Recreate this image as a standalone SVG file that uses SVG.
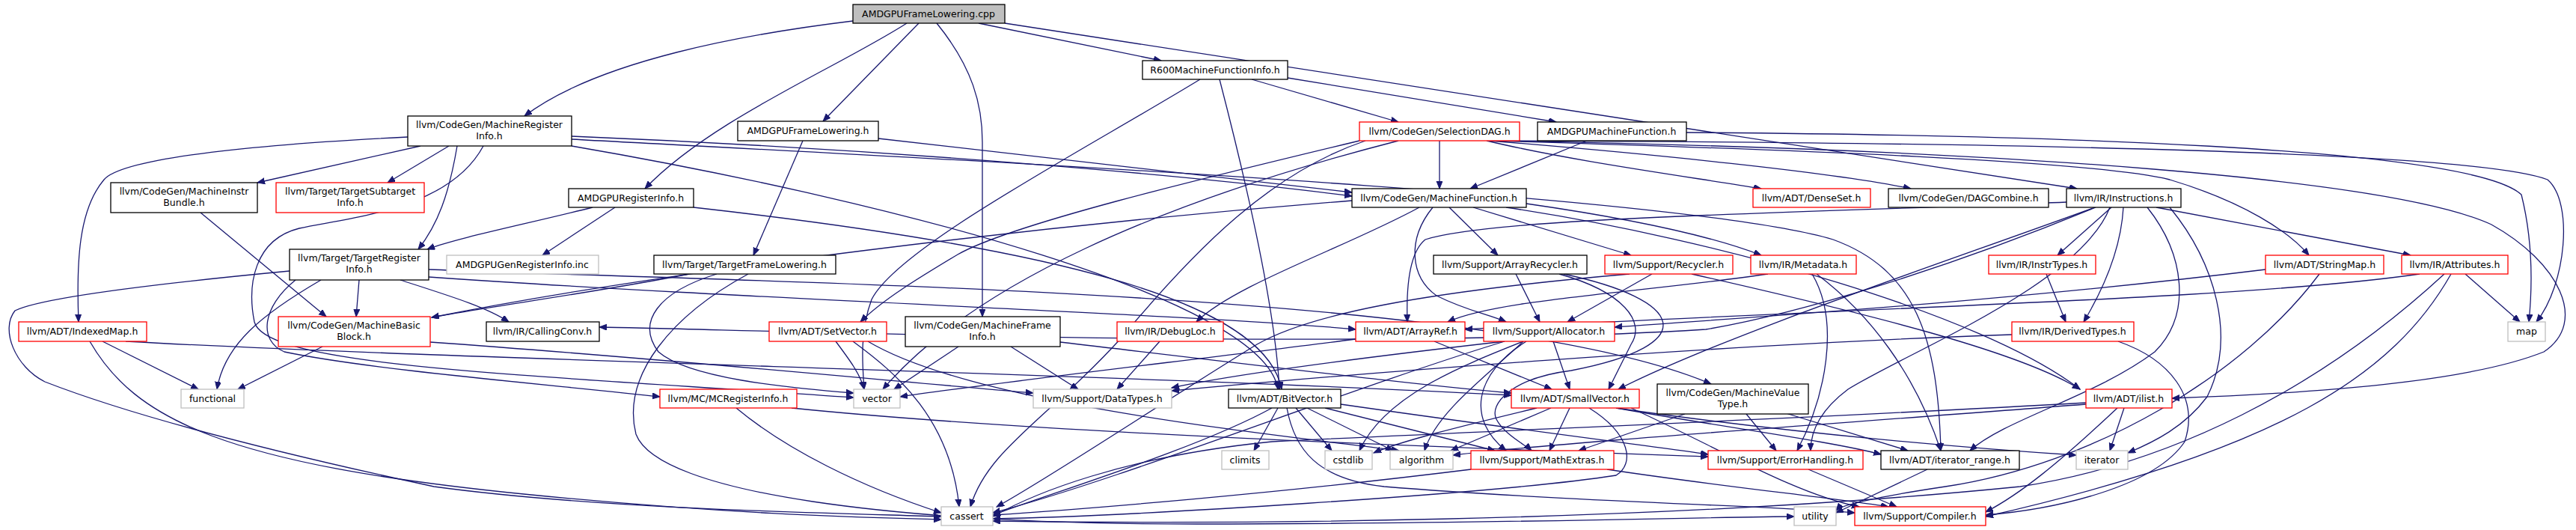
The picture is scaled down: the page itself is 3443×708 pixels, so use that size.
<svg xmlns="http://www.w3.org/2000/svg" width="3443" height="708" viewBox="0 0 3443 708">
<style>
.n rect{fill:#fff;stroke:#000;stroke-width:1.3}
.n.r rect{stroke:#ff0000}
.n.g rect{stroke:#bfbfbf}
.n.c rect{fill:#bfbfbf}
text{font-family:"DejaVu Sans","Liberation Sans",sans-serif;font-size:12.5px;text-anchor:middle;fill:#000}
#edges path{fill:none;stroke:#191970;stroke-width:1.3;marker-end:url(#a)}
</style>
<defs>
<marker id="a" markerWidth="11" markerHeight="9" refX="10" refY="4" orient="auto" markerUnits="userSpaceOnUse">
<path d="M0,0 L10,4 L0,8 z" fill="#191970" stroke="#191970" stroke-width="1"/>
</marker>
</defs>
<rect width="3443" height="708" fill="#fff"/>
<g id="edges">
<path d="M1140,28 C1000,45 800,80 701,155"/>
<path d="M1212,31 C1120,90 950,160 862,252"/>
<path d="M1228,31 L1100,162"/>
<path d="M1252,31 C1300,90 1313,140 1313,190 L1313,423"/>
<path d="M1308,31 L1552,81"/>
<path d="M1343,31 L2776,252"/>
<path d="M1174,185 L1807,257"/>
<path d="M1073,188 L1007,341"/>
<path d="M792,277 C700,300 610,318 571,333"/>
<path d="M822,277 L725,341"/>
<path d="M927,277 C1400,330 1690,400 1713,520"/>
<path d="M1673,106 L1869,163"/>
<path d="M1721,104 L2080,163"/>
<path d="M1604,106 C1450,200 1200,330 1165,400 C1150,440 1152,480 1155,520"/>
<path d="M1630,106 C1670,260 1705,420 1710,520"/>
<path d="M545,183 C300,195 160,215 139,240 C105,280 102,350 105,430"/>
<path d="M562,195 L344,244"/>
<path d="M600,195 L518,244"/>
<path d="M611,195 C600,260 585,300 559,333"/>
<path d="M764,182 C1200,200 1600,235 1807,262"/>
<path d="M764,186 C1300,215 2250,260 2450,320 C2560,360 2590,450 2594,602"/>
<path d="M764,195 C1200,270 1690,400 1708,520"/>
<path d="M646,195 C600,280 470,290 400,305 C340,320 330,380 340,430 C355,490 700,500 1141,531"/>
<path d="M268,284 L436,423"/>
<path d="M480,374 L476,423"/>
<path d="M429,374 C350,420 300,460 290,520"/>
<path d="M535,374 C600,395 650,410 680,430"/>
<path d="M387,362 C250,375 60,395 20,415 C0,440 20,490 60,510 C150,545 300,590 580,650 C800,680 1100,685 1258,690"/>
<path d="M395,374 C350,410 345,455 380,470 C500,495 750,515 882,530"/>
<path d="M573,360 C1100,380 2000,390 2287,513"/>
<path d="M573,370 C1000,400 1600,420 1812,440"/>
<path d="M1058,545 C1400,580 2000,600 2283,610"/>
<path d="M984,545 C1050,600 1150,650 1258,685"/>
<path d="M921,366 C800,390 650,410 577,424"/>
<path d="M958,366 C880,390 850,430 880,470 C920,505 1050,518 1141,525"/>
<path d="M1000,366 C900,420 830,500 850,580 C880,660 1200,700 1600,700 C2000,700 2300,690 2398,690"/>
<path d="M1117,456 C1135,480 1150,500 1155,520"/>
<path d="M1140,456 C1200,500 1270,560 1282,677"/>
<path d="M1160,456 C1300,540 1700,580 1870,602"/>
<path d="M1281,463 L1195,520"/>
<path d="M1351,463 L1441,520"/>
<path d="M1417,457 C1700,490 1900,515 2020,525"/>
<path d="M1550,456 L1493,520"/>
<path d="M1708,545 L1676,602"/>
<path d="M1732,545 L1780,602"/>
<path d="M1747,545 L1862,602"/>
<path d="M1771,545 L1998,602"/>
<path d="M1700,545 C1600,600 1400,660 1327,688"/>
<path d="M1792,540 C2000,570 2200,595 2283,607"/>
<path d="M1720,545 C1730,600 1760,640 1850,650 C2100,670 2350,675 2479,685"/>
<path d="M1924,188 L1924,252"/>
<path d="M1987,188 C2100,215 2250,235 2354,252"/>
<path d="M1990,188 C2200,205 2450,230 2554,252"/>
<path d="M1995,188 C2400,200 2800,215 2900,240 C3000,270 3060,310 3086,341"/>
<path d="M1998,188 C2600,190 3300,200 3405,240 C3440,270 3430,380 3390,430"/>
<path d="M2000,188 C2700,200 3200,240 3330,300 C3420,350 3460,430 3400,470 C3300,510 3100,525 2903,532"/>
<path d="M1825,188 C1700,230 1600,330 1500,450 C1400,560 1320,600 1297,677"/>
<path d="M1817,188 C1600,240 1350,300 1280,340 C1230,370 1180,400 1150,430"/>
<path d="M1869,188 C1550,270 1300,380 1180,520"/>
<path d="M2121,188 L1965,252"/>
<path d="M2254,177 C2700,180 3300,195 3370,260 C3385,320 3385,380 3380,430"/>
<path d="M1807,268 C1400,300 900,360 577,424"/>
<path d="M1897,277 C1800,330 1650,380 1599,430"/>
<path d="M1915,277 C1880,320 1885,370 1920,395 C1960,415 1990,420 2013,430"/>
<path d="M1937,277 L2002,341"/>
<path d="M1969,277 L2180,341"/>
<path d="M2040,272 C2200,295 2300,320 2354,341"/>
<path d="M2013,277 C2300,320 2650,420 2780,520"/>
<path d="M2762,270 C2400,285 2000,290 1905,320 C1880,340 1880,400 1881,430"/>
<path d="M2800,277 C2600,350 2300,450 2163,520"/>
<path d="M2801,277 C2600,360 2400,420 2280,440 C1800,470 1000,440 801,437"/>
<path d="M2820,277 C2780,380 2550,470 2470,520 C2430,550 2420,580 2420,602"/>
<path d="M2870,277 C2920,340 2930,420 2880,470 C2800,530 2680,560 2633,602"/>
<path d="M2838,277 C2835,330 2815,380 2785,430"/>
<path d="M2822,277 L2750,341"/>
<path d="M2882,277 L3222,341"/>
<path d="M2900,277 C2960,350 2990,450 2950,530 C2920,570 2880,590 2844,605"/>
<path d="M2026,366 L2058,430"/>
<path d="M2084,366 C2170,390 2200,430 2180,460 C2170,480 2160,500 2150,520"/>
<path d="M2090,366 C2250,400 2280,460 2100,495 C2020,505 1990,540 2000,560 C2010,580 2040,595 2047,602"/>
<path d="M2208,366 L2095,430"/>
<path d="M2178,366 C1900,390 1750,420 1680,460 C1550,540 1400,640 1332,677"/>
<path d="M2261,366 C2500,420 2700,470 2780,520"/>
<path d="M1917,456 L2074,520"/>
<path d="M1812,453 C1600,480 1300,515 1203,530"/>
<path d="M2076,456 L2098,520"/>
<path d="M2011,456 C1800,480 1650,500 1566,518"/>
<path d="M2036,456 C1950,490 1850,530 1817,602"/>
<path d="M2036,456 C1990,500 1920,550 1904,602"/>
<path d="M2040,456 C1970,500 1960,560 2013,602"/>
<path d="M2011,456 C1800,520 1500,640 1327,685"/>
<path d="M2073,545 L1939,602"/>
<path d="M2054,545 C1950,570 1870,590 1836,605"/>
<path d="M2098,545 L2071,602"/>
<path d="M2160,545 C2300,570 2450,590 2514,607"/>
<path d="M2160,545 C2400,580 2650,600 2775,608"/>
<path d="M2124,545 C2180,580 2185,620 2160,635 C2000,660 1500,690 1327,693"/>
<path d="M2180,545 C2300,600 2400,660 2485,677"/>
<path d="M2334,553 L2374,602"/>
<path d="M2252,553 L2110,602"/>
<path d="M2387,552 L2550,602"/>
<path d="M2148,627 C2300,650 2450,665 2524,677"/>
<path d="M1966,627 C1700,660 1450,680 1327,688"/>
<path d="M2417,627 L2535,677"/>
<path d="M2576,627 L2454,685"/>
<path d="M2363,366 C2200,390 2000,400 1935,430"/>
<path d="M2422,366 C2460,430 2440,530 2402,602"/>
<path d="M2428,366 C2500,420 2560,500 2594,602"/>
<path d="M2735,366 L2761,430"/>
<path d="M2689,447 C2300,460 1800,500 1566,522"/>
<path d="M2831,456 C2900,480 2940,530 2920,590 C2880,650 2750,680 2654,688"/>
<path d="M2839,545 L2820,602"/>
<path d="M2830,545 C2750,620 2700,660 2654,684"/>
<path d="M2788,538 C2400,560 2000,575 1700,590 C1500,610 1380,660 1327,690"/>
<path d="M2788,540 C2400,570 2100,590 1942,608"/>
<path d="M3028,360 C2700,400 2400,420 2158,437"/>
<path d="M3100,366 C3000,500 2800,620 2600,650 C2500,665 2460,675 2454,682"/>
<path d="M3295,366 L3368,430"/>
<path d="M3234,366 C3000,400 2500,410 1958,440"/>
<path d="M3276,366 C3200,500 3050,600 2654,690"/>
<path d="M3267,366 C3100,520 2900,620 2700,650 C2200,700 1600,700 1327,696"/>
<path d="M137,456 L265,520"/>
<path d="M120,456 C180,560 300,620 700,660 C1000,690 1200,692 1258,694"/>
<path d="M168,456 C600,480 1500,500 2020,528"/>
<path d="M431,463 L318,520"/>
<path d="M575,457 C900,480 1200,510 1381,525"/>
</g>
<g id="cpp" class="n c"><rect x="1140" y="6" width="203" height="25"/><text x="1241" y="23">AMDGPUFrameLowering.cpp</text></g>
<g id="mri" class="n"><rect x="545" y="155" width="219" height="40"/><text x="654" y="171">llvm/CodeGen/MachineRegister</text><text x="654" y="186">Info.h</text></g>
<g id="afl" class="n"><rect x="986" y="162" width="188" height="26"/><text x="1080" y="179">AMDGPUFrameLowering.h</text></g>
<g id="r600" class="n"><rect x="1527" y="81" width="194" height="25"/><text x="1624" y="98">R600MachineFunctionInfo.h</text></g>
<g id="ari" class="n"><rect x="760" y="252" width="167" height="25"/><text x="843" y="269">AMDGPURegisterInfo.h</text></g>
<g id="mfi" class="n"><rect x="1210" y="423" width="207" height="40"/><text x="1313" y="439">llvm/CodeGen/MachineFrame</text><text x="1313" y="454">Info.h</text></g>
<g id="inst" class="n"><rect x="2762" y="252" width="153" height="25"/><text x="2838" y="269">llvm/IR/Instructions.h</text></g>
<g id="sdag" class="n r"><rect x="1817" y="163" width="214" height="25"/><text x="1924" y="180">llvm/CodeGen/SelectionDAG.h</text></g>
<g id="amf" class="n"><rect x="2055" y="163" width="199" height="25"/><text x="2154" y="180">AMDGPUMachineFunction.h</text></g>
<g id="mf" class="n"><rect x="1807" y="252" width="233" height="25"/><text x="1923" y="269">llvm/CodeGen/MachineFunction.h</text></g>
<g id="mib" class="n"><rect x="148" y="244" width="196" height="40"/><text x="246" y="260">llvm/CodeGen/MachineInstr</text><text x="246" y="275">Bundle.h</text></g>
<g id="tsi" class="n r"><rect x="369" y="244" width="198" height="40"/><text x="468" y="260">llvm/Target/TargetSubtarget</text><text x="468" y="275">Info.h</text></g>
<g id="tri" class="n"><rect x="387" y="333" width="186" height="41"/><text x="480" y="349">llvm/Target/TargetRegister</text><text x="480" y="364">Info.h</text></g>
<g id="imap" class="n r"><rect x="25" y="430" width="171" height="26"/><text x="110" y="447">llvm/ADT/IndexedMap.h</text></g>
<g id="func" class="n g"><rect x="242" y="520" width="84" height="25"/><text x="284" y="537">functional</text></g>
<g id="mbb" class="n r"><rect x="372" y="423" width="203" height="40"/><text x="473" y="439">llvm/CodeGen/MachineBasic</text><text x="473" y="454">Block.h</text></g>
<g id="agri" class="n g"><rect x="597" y="341" width="203" height="25"/><text x="698" y="358">AMDGPUGenRegisterInfo.inc</text></g>
<g id="tfl" class="n"><rect x="874" y="341" width="243" height="25"/><text x="995" y="358">llvm/Target/TargetFrameLowering.h</text></g>
<g id="cc" class="n"><rect x="650" y="430" width="151" height="26"/><text x="725" y="447">llvm/IR/CallingConv.h</text></g>
<g id="mcri" class="n r"><rect x="882" y="520" width="183" height="25"/><text x="973" y="537">llvm/MC/MCRegisterInfo.h</text></g>
<g id="setv" class="n r"><rect x="1028" y="430" width="157" height="26"/><text x="1106" y="447">llvm/ADT/SetVector.h</text></g>
<g id="vector" class="n g"><rect x="1141" y="520" width="62" height="25"/><text x="1172" y="537">vector</text></g>
<g id="dloc" class="n r"><rect x="1493" y="430" width="142" height="26"/><text x="1564" y="447">llvm/IR/DebugLoc.h</text></g>
<g id="dtypes" class="n g"><rect x="1381" y="520" width="185" height="25"/><text x="1473" y="537">llvm/Support/DataTypes.h</text></g>
<g id="bitv" class="n"><rect x="1642" y="520" width="150" height="25"/><text x="1717" y="537">llvm/ADT/BitVector.h</text></g>
<g id="climits" class="n g"><rect x="1633" y="602" width="63" height="25"/><text x="1664" y="619">climits</text></g>
<g id="cassert" class="n g"><rect x="1258" y="677" width="69" height="25"/><text x="1292" y="694">cassert</text></g>
<g id="arec" class="n"><rect x="1916" y="341" width="205" height="25"/><text x="2018" y="358">llvm/Support/ArrayRecycler.h</text></g>
<g id="recy" class="n r"><rect x="2145" y="341" width="171" height="25"/><text x="2230" y="358">llvm/Support/Recycler.h</text></g>
<g id="aref" class="n r"><rect x="1812" y="430" width="146" height="26"/><text x="1885" y="447">llvm/ADT/ArrayRef.h</text></g>
<g id="alloc" class="n r"><rect x="1983" y="430" width="175" height="26"/><text x="2070" y="447">llvm/Support/Allocator.h</text></g>
<g id="svec" class="n r"><rect x="2020" y="520" width="171" height="25"/><text x="2105" y="537">llvm/ADT/SmallVector.h</text></g>
<g id="mvt" class="n"><rect x="2215" y="513" width="202" height="40"/><text x="2316" y="529">llvm/CodeGen/MachineValue</text><text x="2316" y="544">Type.h</text></g>
<g id="cstdlib" class="n g"><rect x="1771" y="602" width="63" height="25"/><text x="1802" y="619">cstdlib</text></g>
<g id="algorithm" class="n g"><rect x="1858" y="602" width="84" height="25"/><text x="1900" y="619">algorithm</text></g>
<g id="mathx" class="n r"><rect x="1966" y="602" width="191" height="25"/><text x="2061" y="619">llvm/Support/MathExtras.h</text></g>
<g id="errh" class="n r"><rect x="2283" y="602" width="207" height="25"/><text x="2386" y="619">llvm/Support/ErrorHandling.h</text></g>
<g id="dset" class="n r"><rect x="2343" y="252" width="157" height="25"/><text x="2421" y="269">llvm/ADT/DenseSet.h</text></g>
<g id="dagc" class="n"><rect x="2524" y="252" width="214" height="25"/><text x="2631" y="269">llvm/CodeGen/DAGCombine.h</text></g>
<g id="meta" class="n r"><rect x="2340" y="341" width="141" height="25"/><text x="2410" y="358">llvm/IR/Metadata.h</text></g>
<g id="itypes" class="n r"><rect x="2658" y="341" width="143" height="25"/><text x="2729" y="358">llvm/IR/InstrTypes.h</text></g>
<g id="dtyp" class="n r"><rect x="2689" y="430" width="163" height="26"/><text x="2770" y="447">llvm/IR/DerivedTypes.h</text></g>
<g id="ilist" class="n r"><rect x="2788" y="520" width="115" height="25"/><text x="2845" y="537">llvm/ADT/ilist.h</text></g>
<g id="itr" class="n"><rect x="2514" y="602" width="185" height="25"/><text x="2606" y="619">llvm/ADT/iterator_range.h</text></g>
<g id="iter" class="n g"><rect x="2775" y="602" width="69" height="25"/><text x="2809" y="619">iterator</text></g>
<g id="utility" class="n g"><rect x="2398" y="677" width="56" height="25"/><text x="2426" y="694">utility</text></g>
<g id="comp" class="n r"><rect x="2479" y="677" width="175" height="25"/><text x="2566" y="694">llvm/Support/Compiler.h</text></g>
<g id="smap" class="n r"><rect x="3028" y="341" width="158" height="25"/><text x="3107" y="358">llvm/ADT/StringMap.h</text></g>
<g id="attr" class="n r"><rect x="3210" y="341" width="142" height="25"/><text x="3281" y="358">llvm/IR/Attributes.h</text></g>
<g id="map" class="n g"><rect x="3352" y="430" width="50" height="26"/><text x="3377" y="447">map</text></g>
</svg>
